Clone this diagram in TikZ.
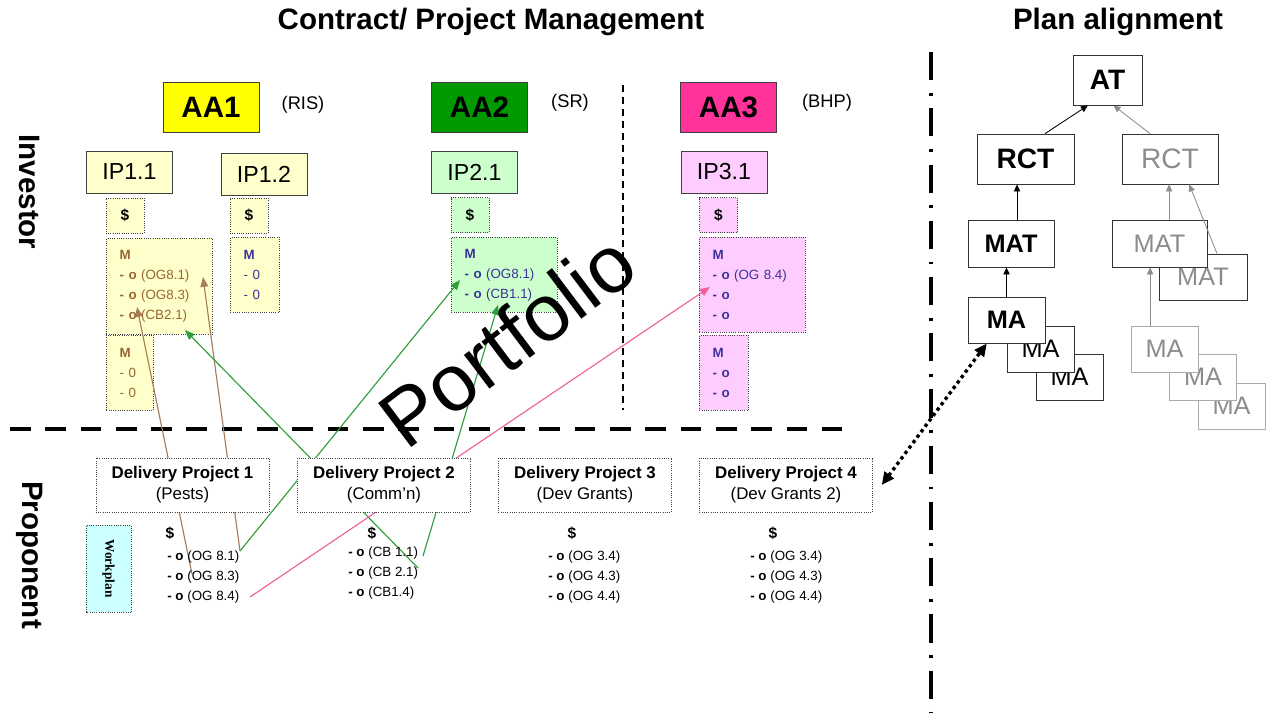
\documentclass[tikz,border=0pt]{standalone}
\usepackage{fontspec}
\setmainfont{Liberation Sans}
\newfontfamily\wpfont{Liberation Serif}
\usepackage{tikz}
\usetikzlibrary{arrows.meta}
\definecolor{aayellow}{HTML}{FFFF00}
\definecolor{aagreen}{HTML}{009900}
\definecolor{aapink}{HTML}{FF3399}
\definecolor{ipyellow}{HTML}{FFFFCC}
\definecolor{ipgreen}{HTML}{CCFFCC}
\definecolor{ippink}{HTML}{FFCCFF}
\definecolor{wpcyan}{HTML}{CCFFFF}
\definecolor{mbrown}{HTML}{996633}
\definecolor{mblue}{HTML}{3B3399}
\definecolor{lnbrown}{HTML}{A67C5B}
\definecolor{lngreen}{HTML}{2E9E3A}
\definecolor{lnpink}{HTML}{EE5F9B}
\definecolor{treegray}{HTML}{8C8C8C}
\definecolor{treelight}{HTML}{AAAAAA}

\begin{document}
\begin{tikzpicture}[x=0.025cm,y=-0.025cm,
  heading/.style={font=\fontsize{21}{24}\selectfont\bfseries},
  aabox/.style={draw=black!75,line width=0.6pt,minimum width=2.4cm,minimum height=1.25cm,font=\fontsize{21}{24}\selectfont\bfseries},
  agency/.style={font=\fontsize{13}{15}\selectfont},
  ipbox/.style={draw=black!75,line width=0.6pt,minimum width=2.15cm,minimum height=1.05cm,font=\fontsize{16.5}{18}\selectfont},
  dolbox/.style={draw=black!75,densely dotted,line width=0.6pt,minimum width=0.95cm,minimum height=0.875cm,font=\fontsize{11}{13}\selectfont\bfseries},
  mbox/.style={draw=black!75,densely dotted,line width=0.6pt,anchor=north west,align=left,inner xsep=0.33cm,inner ysep=0pt,font=\fontsize{9.5}{14.2}\selectfont},
  dpbox/.style={draw=black!75,densely dotted,line width=0.6pt,fill=white,minimum width=4.325cm,minimum height=1.35cm,align=center,font=\fontsize{12}{15}\selectfont},
  dollar/.style={font=\fontsize{11}{13}\selectfont\bfseries},
  goal/.style={anchor=west,inner sep=0pt,font=\fontsize{9.5}{11}\selectfont},
  link/.style={line width=0.8pt,-{Triangle[length=7pt,width=5.5pt]}},
  treebox/.style={draw=black!80,line width=0.6pt,fill=white,font=\fontsize{18}{20}\selectfont},
  treelink/.style={line width=0.6pt,-{Triangle[length=5pt,width=4.5pt]}}]
\fill [white] (0,0) rectangle (1268,713);
\useasboundingbox (0,0) rectangle (1268,713);

% separators
\draw [line width=2.8pt,dash pattern=on 20pt off 9pt on 2pt off 9pt] (931,52) -- (931,713);
\draw [line width=3.3pt,dash pattern=on 14.7pt off 10.4pt] (10,429) -- (850,429);
\draw [line width=1.3pt,dash pattern=on 5pt off 3.5pt] (623,85) -- (623,410);

\path (491,22) node (cpm) [heading] {Contract/ Project Management};
\path (1118,22) node (plan) [heading] {Plan alignment};
\path (30,192) node (investor) [heading,rotate=-90] {Investor};
\path (30,555) node (proponent) [heading,rotate=-90] {Proponent};

% investor side
\path (211,107) node (aa1) [aabox,fill=aayellow] {AA1};
\path (479.5,107) node (aa2) [aabox,fill=aagreen] {AA2};
\path (728.5,107) node (aa3) [aabox,fill=aapink] {AA3};
\path (303,105) node (ris) [agency] {(RIS)};
\path (570,103) node (sr) [agency] {(SR)};
\path (827,103) node (bhp) [agency] {(BHP)};

\path (129.5,172) node (ip11) [ipbox,fill=ipyellow] {IP1.1};
\path (264,174) node (ip12) [ipbox,fill=ipyellow] {IP1.2};
\path (474.5,172) node (ip21) [ipbox,fill=ipgreen] {IP2.1};
\path (724,172) node (ip31) [ipbox,fill=ippink] {IP3.1};

\path (125,215.5) node (d11) [dolbox,fill=ipyellow] {\$};
\path (249,215.5) node (d12) [dolbox,fill=ipyellow] {\$};
\path (470,215) node (d21) [dolbox,fill=ipgreen] {\$};
\path (718.5,215) node (d31) [dolbox,fill=ippink] {\$};

\path (106,238) node (m11) [mbox,fill=ipyellow,text=mbrown,text width=1.99cm,minimum height=2.4cm] {\textbf{M}\\\textbf{- o} (OG8.1)\\\textbf{- o} (OG8.3)\\\textbf{- o} (CB2.1)};
\path (106,335) node (m11b) [mbox,fill=ipyellow,text=mbrown,text width=0.515cm,minimum height=1.875cm] {\textbf{M}\\- 0\\- 0};
\path (230,237) node (m12) [mbox,fill=ipyellow,text=mblue,text width=0.565cm,minimum height=1.875cm] {\textbf{M}\\- 0\\- 0};
\path (451,237) node (m21) [mbox,fill=ipgreen,text=mblue,text width=1.99cm,minimum height=1.875cm] {\textbf{M}\\\textbf{- o} (OG8.1)\\\textbf{- o} (CB1.1)};
\path (699,237) node (m31) [mbox,fill=ippink,text=mblue,text width=1.99cm,minimum height=2.375cm] {\textbf{M}\\\textbf{- o} (OG 8.4)\\\textbf{- o}\\\textbf{- o}};
\path (699,335) node (m31b) [mbox,fill=ippink,text=mblue,text width=0.565cm,minimum height=1.875cm] {\textbf{M}\\\textbf{- o}\\\textbf{- o}};

% ends of the links inside the text lists
\coordinate (aOG) at (203,277);
\coordinate (aCB) at (137,307);
\coordinate (aCBb) at (185,330);
\coordinate (bOG) at (460,280);
\coordinate (bCB) at (498,305);
\coordinate (cOG) at (710,287);
\coordinate (pOGa) at (240,551);
\coordinate (pOGc) at (192,574);
\coordinate (pOGd) at (250,597);
\coordinate (qCBa) at (423,556);
\coordinate (qCBb) at (418,568);

\draw [link,lnbrown] (pOGc) to (aCB);
\draw [link,lnbrown] (pOGa) to (aOG);
\draw [link,lngreen] (pOGa) to (bOG);
\draw [link,lngreen] (qCBb) to (aCBb);
\draw [link,lngreen] (qCBa) to (bCB);
\draw [link,lnpink] (pOGd) to (cOG);

% proponent side
\path (182.5,485) node (dp1) [dpbox] {\textbf{Delivery Project 1}\\(Pests)};
\path (384,485) node (dp2) [dpbox] {\textbf{Delivery Project 2}\\(Comm'n)};
\path (585,485) node (dp3) [dpbox] {\textbf{Delivery Project 3}\\(Dev Grants)};
\path (786,485) node (dp4) [dpbox] {\textbf{Delivery Project 4}\\(Dev Grants 2)};

\path (108.5,568.5) node (workplan) [draw=black!75,densely dotted,line width=0.6pt,fill=wpcyan,rotate=-90,minimum width=2.175cm,minimum height=1.125cm,font=\wpfont\bfseries\fontsize{9.5}{11}\selectfont] {Workplan};

\path (170,533) node (dolP1) [dollar] {\$};
\path (167,557) node (gP1a) [goal] {\textbf{- o} (OG 8.1)};
\path (167,577) node (gP1b) [goal] {\textbf{- o} (OG 8.3)};
\path (167,597) node (gP1c) [goal] {\textbf{- o} (OG 8.4)};
\path (372,533) node (dolP2) [dollar] {\$};
\path (348,553) node (gP2a) [goal] {\textbf{- o} (CB 1.1)};
\path (348,573) node (gP2b) [goal] {\textbf{- o} (CB 2.1)};
\path (348,593) node (gP2c) [goal] {\textbf{- o} (CB1.4)};
\path (572,533) node (dolP3) [dollar] {\$};
\path (548,557) node (gP3a) [goal] {\textbf{- o} (OG 3.4)};
\path (548,577) node (gP3b) [goal] {\textbf{- o} (OG 4.3)};
\path (548,597) node (gP3c) [goal] {\textbf{- o} (OG 4.4)};
\path (773,533) node (dolP4) [dollar] {\$};
\path (750,557) node (gP4a) [goal] {\textbf{- o} (OG 3.4)};
\path (750,577) node (gP4b) [goal] {\textbf{- o} (OG 4.3)};
\path (750,597) node (gP4c) [goal] {\textbf{- o} (OG 4.4)};

% plan alignment tree
\path (1107.5,80) node (at) [treebox,minimum width=1.725cm,minimum height=1.25cm,font=\fontsize{20}{22}\selectfont\bfseries] {AT};
\path (1025.5,159) node (rctA) [treebox,minimum width=2.425cm,minimum height=1.25cm,font=\fontsize{20}{22}\selectfont\bfseries] {RCT};
\path (1170,159) node (rctB) [treebox,text=treegray,minimum width=2.4cm,minimum height=1.25cm,font=\fontsize{20}{22}\selectfont] {RCT};
\path (1011,243.5) node (matA) [treebox,minimum width=2.15cm,minimum height=1.175cm,font=\fontsize{18}{20}\selectfont\bfseries] {MAT};
\path (1203,277) node (matC) [treebox,text=treegray,minimum width=2.2cm,minimum height=1.15cm] {MAT};
\path (1159.5,243.5) node (matB) [treebox,text=treegray,minimum width=2.375cm,minimum height=1.175cm] {MAT};
\path (1069.5,377) node (maC) [treebox,minimum width=1.675cm,minimum height=1.15cm] {MA};
\path (1040.5,349) node (maB) [treebox,minimum width=1.675cm,minimum height=1.15cm] {MA};
\path (1006.5,320) node (maA) [treebox,minimum width=1.925cm,minimum height=1.15cm,font=\fontsize{18}{20}\selectfont\bfseries] {MA};
\path (1231.5,406) node (maF) [treebox,draw=treelight,text=treegray,minimum width=1.675cm,minimum height=1.15cm] {MA};
\path (1203,377) node (maE) [treebox,draw=treelight,text=treegray,minimum width=1.675cm,minimum height=1.15cm] {MA};
\path (1164.5,349) node (maD) [treebox,draw=treelight,text=treegray,minimum width=1.675cm,minimum height=1.15cm] {MA};

\draw [treelink] ([xshift=0.49cm]rctA.north) to ([xshift=-0.49cm]at.south);
\draw [treelink,treegray] ([xshift=-0.5cm]rctB.north) to ([xshift=0.15cm]at.south);
\draw [treelink] ([xshift=0.15cm]matA.north) to ([xshift=0.15cm]matA.north |- rctA.south);
\draw [treelink] (maA.north) to (maA.north |- matA.south);
\draw [treelink,treegray] ([xshift=0.24cm]matB.north) to ([xshift=0.24cm]matB.north |- rctB.south);
\draw [treelink,treegray] ([xshift=0.35cm]matC.north) to ([xshift=0.48cm]rctB.south);
\draw [treelink,treegray] ([xshift=-0.36cm]maD.north) to ([xshift=-0.36cm]maD.north |- matB.south);

\draw [line width=2.4pt,dash pattern=on 2.4pt off 2.4pt,{Triangle[length=9pt,width=8pt]}-{Triangle[length=9pt,width=8pt]}] ([xshift=0.22cm]dp4.east) to ([xshift=0.48cm]maA.south west);

\path (507,340) node (portfolio) [rotate=37,inner sep=0pt,font=\fontsize{57}{62}\selectfont] {Portfolio};
\end{tikzpicture}
\end{document}
